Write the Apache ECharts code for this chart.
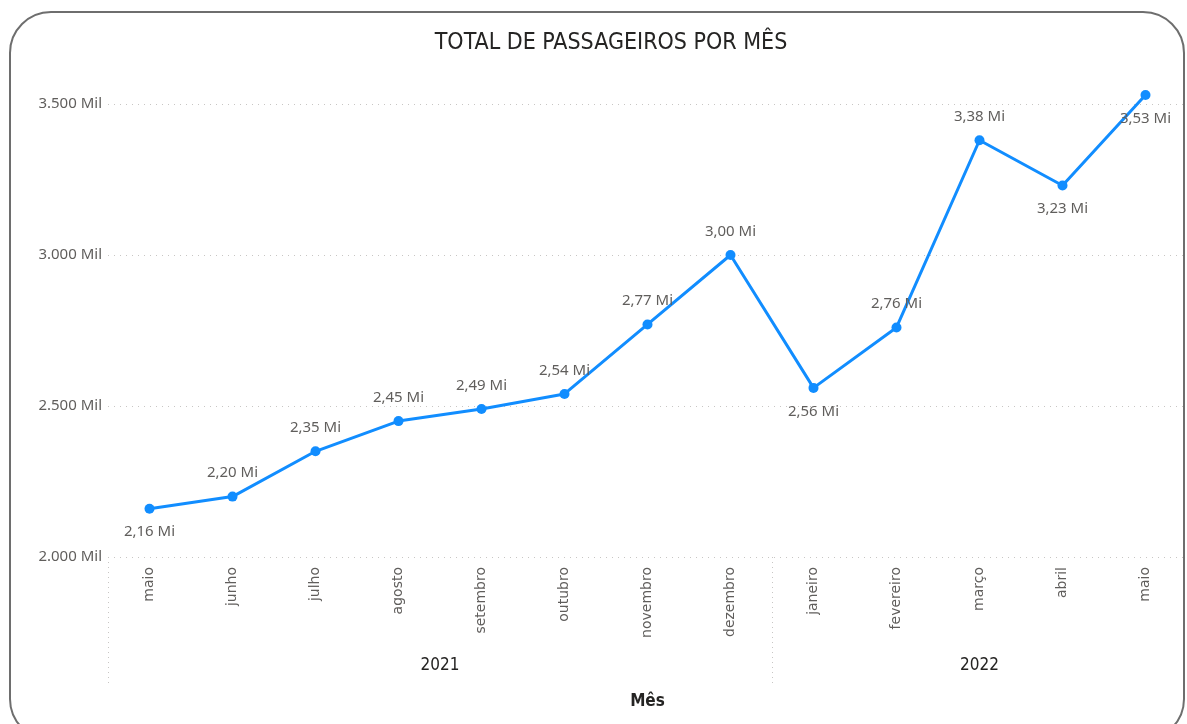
<!DOCTYPE html>
<html>
<head>
<meta charset="utf-8">
<title>Total de passageiros por mês</title>
<script src="https://cdn.jsdelivr.net/npm/echarts@6/dist/echarts.min.js"></script>
<style>
    html, body { margin: 0; padding: 0; background: #fff; }
    #chart { position: absolute; left: 0; top: 0; width: 1187px; height: 724px; }
    /* moldura arredondada do visual */
    .frame {
        position: absolute; left: 9px; top: 11px; width: 1172px; height: 726px;
        border: 2px solid #6e6e6e; border-radius: 42px; pointer-events: none;
    }
</style>
</head>
<body>
<div class="frame"></div>
<div id="chart"></div>
<script>
    // meses (eixo x) e ano de cada grupo
    const meses = ['maio', 'junho', 'julho', 'agosto', 'setembro', 'outubro', 'novembro', 'dezembro',
        'janeiro', 'fevereiro', 'março', 'abril', 'maio'];
    const anos = ['2021', '2022'];
    const mesesPorAno = [8, 5];
    // total de passageiros, em milhares
    const passageiros = [2160, 2200, 2350, 2450, 2490, 2540, 2770, 3000, 2560, 2760, 3380, 3230, 3530];
    // rótulo abaixo do ponto?
    const rotuloAbaixo = [true, false, false, false, false, false, false, false, true, false, false, true, true];
    const yTicks = [2000, 2500, 3000, 3500];

    // centros e limites de cada ano no eixo secundario
    const centrosAno = [];
    const limitesAno = [0];
    let acc = 0;
    mesesPorAno.forEach(n => {
        centrosAno.push(acc + n / 2);
        acc += n;
        limitesAno.push(acc);
    });

    const cinza = '#605E5C';
    const din = '"DejaVu Sans Condensed", "DejaVu Sans", sans-serif';
    const segoe = '"Noto Sans", "Open Sans", sans-serif';

    const myChart = echarts.init(document.getElementById('chart'));
    myChart.setOption({
        animation: false,
        textStyle: { fontFamily: segoe },
        title: {
            text: 'TOTAL DE PASSAGEIROS POR MÊS',
            left: 606, top: 27, textAlign: 'center',
            textStyle: { fontSize: 23, fontWeight: 'normal', color: '#252423', fontFamily: din }
        },
        grid: { left: 108, right: 0, top: 104, bottom: 167, containLabel: false },
        xAxis: [{
            type: 'category',
            data: meses,
            boundaryGap: true,
            axisLine: { show: false },
            axisTick: { show: false },
            axisLabel: { rotate: 90, color: cinza, fontSize: 14, margin: 10, interval: 0, fontFamily: 'DejaVu Sans' },
            name: 'Mês',
            nameLocation: 'middle',
            nameGap: 136,
            nameTextStyle: { color: '#252423', fontSize: 17, fontWeight: 'bold', fontFamily: din }
        }, {
            type: 'value',
            position: 'bottom',
            min: 0,
            max: meses.length,
            axisLine: { show: false },
            splitLine: { show: false },
            axisTick: {
                show: true, length: 128, customValues: limitesAno.slice(0, -1),
                lineStyle: { color: '#c8c6c4', type: [1, 4] }
            },
            axisLabel: {
                customValues: centrosAno,
                margin: 100,
                color: '#252423',
                fontSize: 17,
                fontFamily: din,
                formatter: v => anos[centrosAno.indexOf(v)] || ''
            }
        }],
        yAxis: {
            type: 'value',
            min: yTicks[0],
            max: yTicks[yTicks.length - 1],
            interval: 500,
            axisLine: { show: false },
            axisTick: { show: false },
            splitLine: { lineStyle: { color: '#c8c6c4', type: [1, 5] } },
            axisLabel: {
                color: cinza, fontSize: 15, margin: 6,
                formatter: v => v.toLocaleString('de-DE') + ' Mil'
            }
        },
        series: [{
            type: 'line',
            xAxisIndex: 0,
            clip: false,
            data: passageiros.map((v, i) => ({
                value: v,
                label: {
                    position: rotuloAbaixo[i] ? 'bottom' : 'top',
                    distance: 11
                }
            })),
            symbol: 'circle',
            symbolSize: 10,
            itemStyle: { color: '#118DFF' },
            lineStyle: { color: '#118DFF', width: 3 },
            label: {
                show: true,
                color: cinza,
                fontSize: 15,
                formatter: p => (p.value / 1000).toFixed(2).replace('.', ',') + ' Mi'
            }
        }]
    });
    window.addEventListener('resize', () => {
        myChart.resize();
    });
</script>
</body>
</html>
